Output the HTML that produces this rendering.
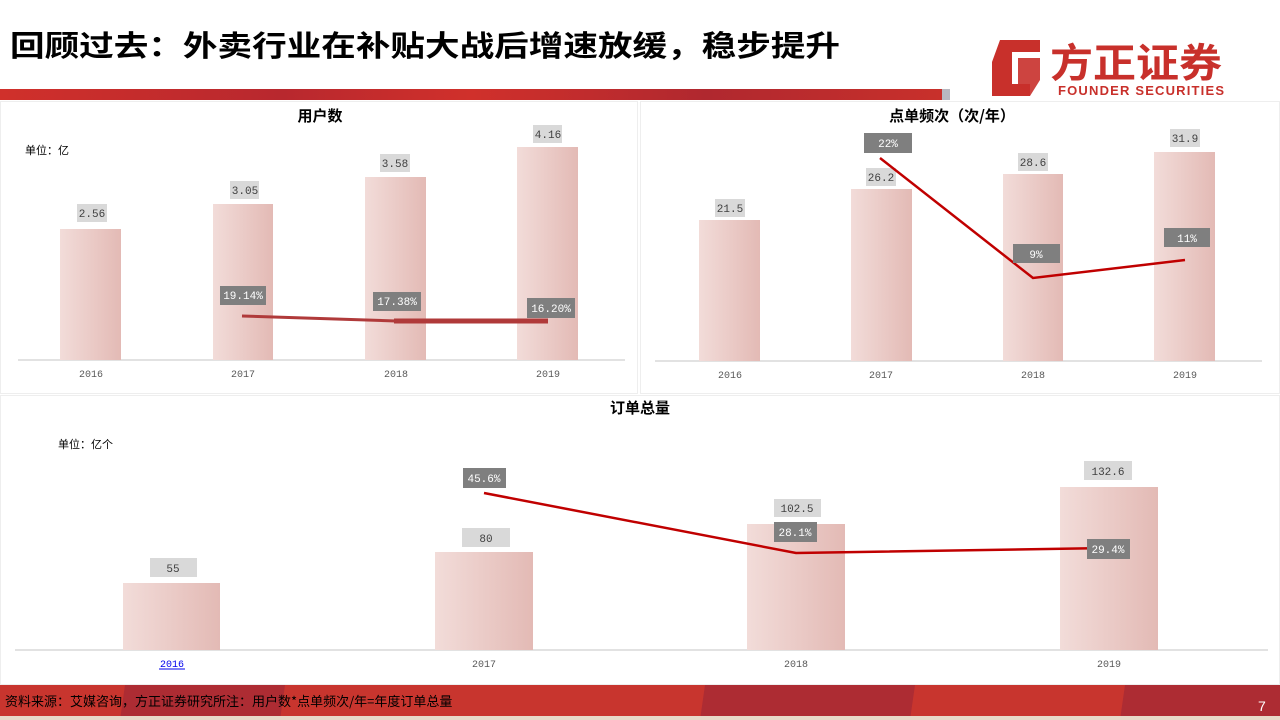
<!DOCTYPE html>
<html><head><meta charset="utf-8"><style>
body{margin:0;width:1280px;height:720px;overflow:hidden;background:#fff;font-family:"Liberation Sans","Noto Sans CJK SC",sans-serif}
</style></head><body>
<svg width="1280" height="720" viewBox="0 0 1280 720" xmlns="http://www.w3.org/2000/svg" style="position:absolute;left:0;top:0">
<defs>
<linearGradient id="g" x1="0" x2="1" y1="0" y2="0"><stop offset="0" stop-color="#f2dcd9"/><stop offset="1" stop-color="#e3bab5"/></linearGradient>
<linearGradient id="rb" x1="0" x2="1"><stop offset="0" stop-color="#d0302b"/><stop offset="0.3" stop-color="#b8282e"/><stop offset="0.5" stop-color="#d0302b"/><stop offset="0.75" stop-color="#b0282f"/><stop offset="1" stop-color="#c8302b"/></linearGradient>
</defs>
<text x="10" y="56" font-size="29" font-weight="bold" fill="#000" font-family="Noto Sans CJK SC,sans-serif" textLength="830" lengthAdjust="spacingAndGlyphs">回顾过去：外卖行业在补贴大战后增速放缓，稳步提升</text>
<rect x="0" y="89" width="942" height="11" fill="url(#rb)"/>
<rect x="942" y="89" width="8" height="11" fill="#b8b8c0"/>
<!-- logo -->
<polygon points="1000,40 1040,40 1040,52 1012,52 1012,84 1030,84 1030,96 992,96 992,62" fill="#c8302b"/>
<polygon points="1018,58 1040,58 1040,80 1030,96 1018,84" fill="#c8302b" opacity="0.9"/>
<text x="1050" y="77" font-size="40" font-weight="bold" fill="#c8302b" font-family="Noto Sans CJK SC,sans-serif" textLength="172" lengthAdjust="spacingAndGlyphs">方正证券</text>
<text x="1058" y="95" font-size="13" font-weight="bold" fill="#c8302b" textLength="166">FOUNDER SECURITIES</text>
<!-- panel borders -->
<g stroke="#eeeeee" fill="none"><rect x="0.5" y="101.5" width="637" height="292"/><rect x="640.5" y="101.5" width="639" height="292"/><rect x="0.5" y="395.5" width="1279" height="289"/></g>
<g font-family="Noto Sans CJK SC,sans-serif" font-weight="bold" font-size="15" fill="#000" text-anchor="middle">
<text x="320" y="121">用户数</text><text x="952" y="121">点单频次（次/年）</text><text x="640" y="413">订单总量</text></g>
<g font-family="Noto Sans CJK SC,sans-serif" font-size="11" fill="#000"><text x="25" y="154">单位：亿</text><text x="58" y="448">单位：亿个</text></g>
<!-- axes -->
<g stroke="#d9d9d9" stroke-width="1.5"><line x1="18" y1="360" x2="625" y2="360"/><line x1="655" y1="361" x2="1262" y2="361"/><line x1="15" y1="650" x2="1268" y2="650"/></g>
<!-- bars -->
<g fill="url(#g)">
<rect x="60" y="229" width="61" height="131"/><rect x="213" y="204" width="60" height="156"/><rect x="365" y="177" width="61" height="183"/><rect x="517" y="147" width="61" height="213"/>
<rect x="699" y="220" width="61" height="141"/><rect x="851" y="189" width="61" height="172"/><rect x="1003" y="174" width="60" height="187"/><rect x="1154" y="152" width="61" height="209"/>
<rect x="123" y="583" width="97" height="67"/><rect x="435" y="552" width="98" height="98"/><rect x="747" y="524" width="98" height="126"/><rect x="1060" y="487" width="98" height="163"/>
</g>
<!-- value labels -->
<g fill="#d9d9d9">
<rect x="77" y="204" width="30" height="18"/><rect x="230" y="181" width="29" height="18"/><rect x="380" y="154" width="30" height="18"/><rect x="533" y="125" width="29" height="18"/>
<rect x="715" y="199" width="30" height="18"/><rect x="866" y="168" width="30" height="18"/><rect x="1018" y="153" width="30" height="18"/><rect x="1170" y="129" width="30" height="18"/>
<rect x="150" y="558" width="47" height="19"/><rect x="462" y="528" width="48" height="19"/><rect x="774" y="499" width="47" height="18"/><rect x="1084" y="461" width="48" height="19"/>
</g>
<g font-family="Liberation Mono,monospace" font-size="11" fill="#404040" text-anchor="middle">
<text x="92" y="217">2.56</text><text x="245" y="194">3.05</text><text x="395" y="167">3.58</text><text x="548" y="138">4.16</text>
<text x="730" y="212">21.5</text><text x="881" y="181">26.2</text><text x="1033" y="166">28.6</text><text x="1185" y="142">31.9</text>
<text x="173" y="572">55</text><text x="486" y="542">80</text><text x="797" y="512">102.5</text><text x="1108" y="475">132.6</text>
</g>
<!-- lines -->
<g stroke="#b03a3a" fill="none"><line x1="242" y1="316" x2="396" y2="321" stroke-width="3"/><line x1="394" y1="321" x2="548" y2="321" stroke-width="5"/></g>
<g stroke="#c00000" fill="none" stroke-width="2.5"><polyline points="880,158 1033,278 1185,260"/><polyline points="484,493 796,553 1108,548"/></g>
<!-- pct boxes -->
<g fill="#7f7f7f">
<rect x="220" y="286" width="46" height="19"/><rect x="373" y="292" width="48" height="19"/><rect x="527" y="298" width="48" height="20"/>
<rect x="864" y="133" width="48" height="20"/><rect x="1013" y="244" width="47" height="19"/><rect x="1164" y="228" width="46" height="19"/>
<rect x="463" y="468" width="43" height="20"/><rect x="774" y="522" width="43" height="20"/><rect x="1087" y="539" width="43" height="20"/>
</g>
<g font-family="Liberation Mono,monospace" font-size="11" fill="#fff" text-anchor="middle">
<text x="243" y="299">19.14%</text><text x="397" y="305">17.38%</text><text x="551" y="312">16.20%</text>
<text x="888" y="147">22%</text><text x="1036" y="258">9%</text><text x="1187" y="242">11%</text>
<text x="484" y="482">45.6%</text><text x="795" y="536">28.1%</text><text x="1108" y="553">29.4%</text>
</g>
<!-- years -->
<g font-family="Liberation Mono,monospace" font-size="10" fill="#595959" text-anchor="middle">
<text x="91" y="377">2016</text><text x="243" y="377">2017</text><text x="396" y="377">2018</text><text x="548" y="377">2019</text>
<text x="730" y="378">2016</text><text x="881" y="378">2017</text><text x="1033" y="378">2018</text><text x="1185" y="378">2019</text>
<text x="172" y="667" fill="#0000ee">2016</text><text x="484" y="667">2017</text><text x="796" y="667">2018</text><text x="1109" y="667">2019</text>
</g>
<line x1="159" y1="669" x2="185" y2="669" stroke="#0000ee" stroke-width="1"/>
<!-- footer -->
<rect x="0" y="685" width="1280" height="35" fill="#c8352e"/>
<polygon points="125,685 285,685 280,720 120,720" fill="#ad2c33"/>
<polygon points="705,685 915,685 910,720 700,720" fill="#ad2c33"/>
<polygon points="1125,685 1280,685 1280,720 1120,720" fill="#ad2c33"/>
<rect x="0" y="716" width="1280" height="4" fill="#e8d9c8"/>
<text x="5" y="706" font-size="13" fill="#000" font-family="Noto Sans CJK SC,sans-serif">资料来源：艾媒咨询，方正证券研究所注：用户数*点单频次/年=年度订单总量</text>
<text x="1258" y="711" font-size="14" fill="#fff">7</text>
</svg>
</body></html>
